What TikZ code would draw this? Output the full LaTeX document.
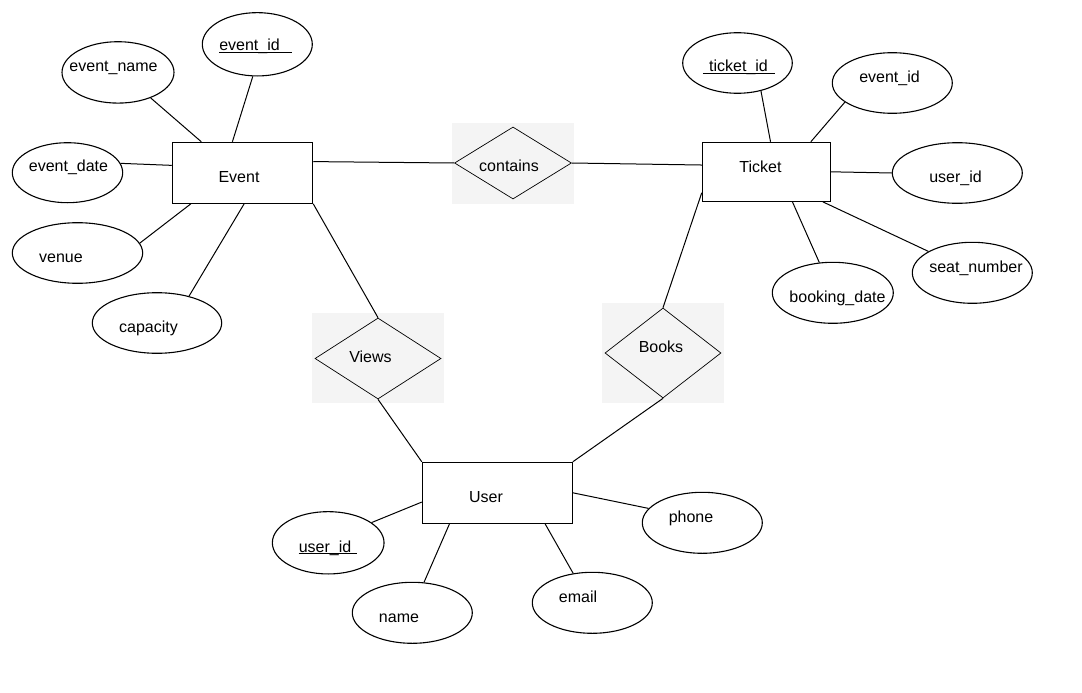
\documentclass[tikz,border=0pt]{standalone}
\usepackage{fontspec}
\setmainfont{Liberation Sans}
\usetikzlibrary{shapes.geometric}
\definecolor{relbox}{HTML}{F4F4F4}
\begin{document}
\begin{tikzpicture}[x=1pt,y=-1pt,
  entity/.style={draw, rectangle, line width=1.1pt, inner sep=0pt},
  attr/.style={draw, ellipse, line width=1.1pt, inner sep=0pt},
  rel/.style={draw, diamond, line width=0.7pt, inner sep=0pt},
  relback/.style={fill=relbox, draw=none},
  txt/.style={anchor=base, inner sep=0pt, font=\fontsize{16}{19}\selectfont},
  link/.style={line width=1pt},
  uline/.style={line width=1pt}]

% canvas
\useasboundingbox (0,0) rectangle (1082,693);
\fill[white] (0,0) rectangle (1082,693);

% shaded frames of the relationship symbols
\fill[relback] (452,123) rectangle (574,204);
\fill[relback] (312,313) rectangle (444,403);
\fill[relback] (602,303) rectangle (724,403);

% entities
\node[entity, minimum width=140.4pt, minimum height=61pt] (event)  at (242.5,172.8) {};
\node[entity, minimum width=128pt,   minimum height=59pt] (ticket) at (766.3,171.8) {};
\node[entity, minimum width=150pt,   minimum height=61pt] (user)   at (497.3,492.8) {};
\node[txt] (event-t)  at (239,182) {Event};
\node[txt] (ticket-t) at (760.5,172) {Ticket};
\node[txt] (user-t)   at (486,502) {User};

% relationships
\node[rel, minimum width=117pt, minimum height=72pt] (contains) at (513,163) {};
\node[rel, minimum width=126pt, minimum height=81pt] (views)    at (378,358.5) {};
\node[rel, minimum width=116pt, minimum height=90pt] (books)    at (663,353) {};
\node[txt] (contains-t) at (509,171.7) {contains};
\node[txt] (views-t)    at (370.5,362) {Views};
\node[txt] (books-t)    at (661,352) {Books};

% attributes of Event
\node[attr, minimum width=110pt,   minimum height=63.3pt] (eid)    at (257.3,44.3) {};
\node[attr, minimum width=112pt,   minimum height=61.4pt] (ename)  at (118,72.4) {};
\node[attr, minimum width=110.4pt, minimum height=60pt]   (edate)  at (67.5,172.7) {};
\node[attr, minimum width=130.4pt, minimum height=60.6pt] (venue)  at (77.5,253) {};
\node[attr, minimum width=129.4pt, minimum height=60.6pt] (cap)    at (157,323) {};
\node[txt] (eid-t)   at (249.5,51) {event\_id};
\node[txt] (ename-t) at (113.5,72) {event\_name};
\node[txt] (edate-t) at (68.5,171) {event\_date};
\node[txt] (venue-t) at (61,262) {venue};
\node[txt] (cap-t)   at (148.5,332) {capacity};

% attributes of Ticket
\node[attr, minimum width=109.6pt, minimum height=60.6pt] (tid)    at (737.5,63) {};
\node[attr, minimum width=120pt,   minimum height=60.6pt] (teid)   at (892.3,83) {};
\node[attr, minimum width=130pt,   minimum height=60.6pt] (tuid)   at (957.3,173) {};
\node[attr, minimum width=120pt,   minimum height=61pt]   (seat)   at (972.3,272.8) {};
\node[attr, minimum width=121pt,   minimum height=61pt]   (bdate)  at (832.8,292.8) {};
\node[txt] (tid-t)   at (738.5,72) {ticket\_id};
\node[txt] (teid-t)  at (889.5,82) {event\_id};
\node[txt] (tuid-t)  at (955.5,182) {user\_id};
\node[txt] (seat-t)  at (976,272) {seat\_number};
\node[txt] (bdate-t) at (837.5,302) {booking\_date};

% attributes of User
\node[attr, minimum width=111.7pt, minimum height=62.3pt] (uid)    at (328.2,542.8) {};
\node[attr, minimum width=120pt,   minimum height=61pt]   (uname)  at (412.3,612.8) {};
\node[attr, minimum width=120pt,   minimum height=61pt]   (email)  at (592.3,602.8) {};
\node[attr, minimum width=120pt,   minimum height=61pt]   (phone)  at (702.3,522.8) {};
\node[txt] (uid-t)   at (325,552) {user\_id};
\node[txt] (uname-t) at (399,622) {name};
\node[txt] (email-t) at (578,602) {email};
\node[txt] (phone-t) at (691,522) {phone};

% key underlines
\draw[uline] ([yshift=-1.6pt]eid-t.base west) -- ([xshift=12pt,yshift=-1.6pt]eid-t.base east);
\draw[uline] ([xshift=-6pt,yshift=-1.6pt]tid-t.base west) -- ([xshift=7pt,yshift=-1.6pt]tid-t.base east);
\draw[uline] ([yshift=-1.6pt]uid-t.base west) -- ([xshift=6pt,yshift=-1.6pt]uid-t.base east);

% relationship links
\draw[link] (event.9) -- (contains.west);
\draw[link] (contains.east) -- (ticket.174.1);
\draw[link] (event.south east) -- (views.north);
\draw[link] (views.south) -- (user.north west);
\draw[link] (ticket.198.7) -- (books.north);
\draw[link] (books.south) -- (user.north east);

% attribute links: Event
\draw[link] (ename.-38.7) -- (event.143.8);
\draw[link] (eid.262.3)   -- (event.108.2);
\draw[link] (edate.10.2)  -- (event.174.1);
\draw[link] (venue.9.7)   -- (event.211.2);
\draw[link] (cap.40.3)    -- (event.273.3);

% attribute links: Ticket
\draw[link] (tid.-50.3)   -- (ticket.82.2);
\draw[link] (teid.202.1)  -- (ticket.34.7);
\draw[link] (tuid.west)   -- (ticket.east);
\draw[link] (seat.154.1)  -- (ticket.-28);
\draw[link] (bdate.114)   -- (ticket.-49.1);

% attribute links: User
\draw[link] (uid.25.2)    -- (user.187.5);
\draw[link] (uname.69.4)  -- (user.213.7);
\draw[link] (email.123.4) -- (user.-33.1);
\draw[link] (phone.165.6) -- (user.east);

\end{tikzpicture}
\end{document}
